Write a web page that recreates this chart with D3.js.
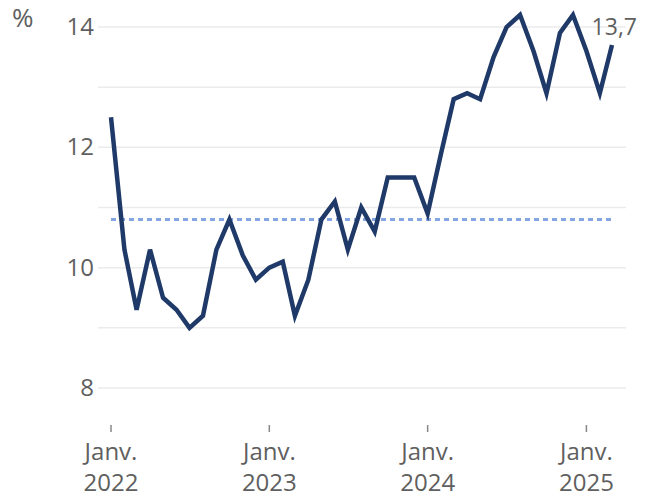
<!DOCTYPE html>
<html>
<head>
<meta charset="utf-8">
<script src="https://cdn.jsdelivr.net/npm/d3@7"></script>
<style>
  body { margin: 0; background: #fff; }
  svg text { font-family: "Open Sans", "DejaVu Sans", sans-serif; fill: #5f5f5f; }
</style>
</head>
<body>
<div id="chart"></div>
<script>
// monthly values, Jan 2022 .. Mar 2025
var firstMonth = new Date(2022, 0, 1);
var values = [
  12.5, 10.3, 9.3, 10.3, 9.5, 9.3, 9.0, 9.2, 10.3, 10.8, 10.2, 9.8,
  10.0, 10.1, 9.2, 9.8, 10.8, 11.1, 10.3, 11.0, 10.6, 11.5, 11.5, 11.5,
  10.9, 11.9, 12.8, 12.9, 12.8, 13.5, 14.0, 14.2, 13.6, 12.9, 13.9, 14.2,
  13.6, 12.9, 13.7
];
var average = 10.8;
var yTicks = [8, 10, 12, 14];
var yGrid = [8, 9, 10, 11, 12, 13, 14];
var xTickDates = [new Date(2022, 0, 1), new Date(2023, 0, 1), new Date(2024, 0, 1), new Date(2025, 0, 1)];
var xTickLabels = [["Janv.", "2022"], ["Janv.", "2023"], ["Janv.", "2024"], ["Janv.", "2025"]];
var lastLabel = "13,7";

var width = 652, height = 498;

var data = values.map(function(v, i) {
  return { date: d3.timeMonth.offset(firstMonth, i), value: v };
});

var x = d3.scaleTime()
  .domain([firstMonth, data[data.length - 1].date])
  .range([111, 612]);

var y = d3.scaleLinear()
  .domain([8, 14])
  .range([388, 27]);

var svg = d3.select("#chart")
  .append("svg")
  .attr("width", width)
  .attr("height", height);

// gridlines
svg.append("g")
  .selectAll("line")
  .data(yGrid)
  .enter().append("line")
  .attr("x1", 98)
  .attr("x2", 626)
  .attr("y1", d => y(d))
  .attr("y2", d => y(d))
  .attr("stroke", "#ebebeb")
  .attr("stroke-width", 1.5);

// y labels
svg.append("g")
  .selectAll("text")
  .data(yTicks)
  .enter().append("text")
  .attr("x", 94)
  .attr("y", d => y(d) + 8)
  .attr("text-anchor", "end")
  .style("font-size", "24px")
  .text(d => d);

svg.append("text")
  .attr("x", 12)
  .attr("y", 27)
  .style("font-size", "26px")
  .text("%");

// x ticks
var xt = svg.append("g")
  .selectAll("g")
  .data(xTickDates)
  .enter().append("g")
  .attr("transform", d => "translate(" + x(d) + ",0)");

xt.append("line")
  .attr("y1", 425)
  .attr("y2", 432)
  .attr("stroke", "#888")
  .attr("stroke-width", 1.5);

xt.append("text")
  .attr("y", 460)
  .attr("text-anchor", "middle")
  .style("font-size", "24px")
  .text((d, i) => xTickLabels[i][0]);

xt.append("text")
  .attr("y", 491)
  .attr("text-anchor", "middle")
  .style("font-size", "24px")
  .text((d, i) => xTickLabels[i][1]);

// average line
svg.append("line")
  .attr("x1", x(data[0].date))
  .attr("x2", x(data[data.length - 1].date))
  .attr("y1", y(average))
  .attr("y2", y(average))
  .attr("stroke", "#86a6e3")
  .attr("stroke-width", 3)
  .attr("stroke-dasharray", "5,4");

// main line
var line = d3.line()
  .x(d => x(d.date))
  .y(d => y(d.value));

svg.append("path")
  .datum(data)
  .attr("d", line)
  .attr("fill", "none")
  .attr("stroke", "#1f3a68")
  .attr("stroke-width", 4.5)
  .attr("stroke-linejoin", "miter");

var last = data[data.length - 1];
svg.append("text")
  .attr("x", x(last.date) + 25)
  .attr("y", 35)
  .attr("text-anchor", "end")
  .style("font-size", "23px")
  .text(lastLabel);
</script>
</body>
</html>
